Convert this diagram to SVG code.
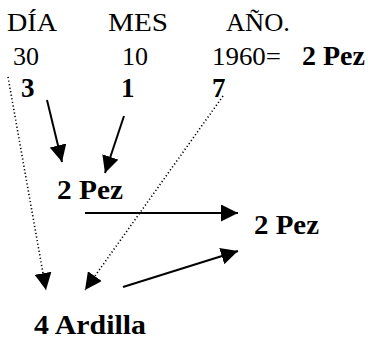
<svg xmlns="http://www.w3.org/2000/svg" width="368" height="339" viewBox="0 0 368 339">
<defs>
<style>
.s{stroke:#000;stroke-width:2;fill:none}
.d{stroke:#000;stroke-width:1.6;stroke-dasharray:1.2 2.4;fill:none}
</style>
<marker id="ah" viewBox="0 0 16 16" refX="16" refY="8" markerWidth="17" markerHeight="17" markerUnits="userSpaceOnUse" orient="auto">
<path d="M0,0 L16,8 L0,16 Z" fill="#000"/>
</marker>
</defs>
<rect width="368" height="339" fill="#fff"/>
<g font-family="Liberation Serif" font-size="26" fill="#000">
<g id="headers">
<text x="7" y="31" textLength="50" lengthAdjust="spacingAndGlyphs">DÍA</text>
<text x="108" y="31" textLength="60" lengthAdjust="spacingAndGlyphs">MES</text>
<text x="226" y="31" textLength="64" lengthAdjust="spacingAndGlyphs">AÑO.</text>
</g>
<g id="values">
<text x="13" y="65">30</text>
<text x="122" y="65">10</text>
<text x="212" y="65" textLength="69" lengthAdjust="spacingAndGlyphs">1960=</text>
<text x="302" y="65" font-weight="bold" font-size="27" textLength="63" lengthAdjust="spacingAndGlyphs">2 Pez</text>
</g>
<g id="digits" font-weight="bold" font-size="27">
<text x="21" y="97">3</text>
<text x="121" y="97">1</text>
<text x="212" y="97">7</text>
</g>
<g font-weight="bold" font-size="27">
<g id="pez1"><text x="57" y="199" textLength="66" lengthAdjust="spacingAndGlyphs">2 Pez</text></g>
<g id="pez2"><text x="254" y="234" textLength="65" lengthAdjust="spacingAndGlyphs">2 Pez</text></g>
<g id="ardilla"><text x="34" y="334" textLength="112" lengthAdjust="spacingAndGlyphs">4 Ardilla</text></g>
</g>
</g>
<g id="connectors">
<line class="s" x1="47" y1="100" x2="62" y2="162" marker-end="url(#ah)"/>
<line class="s" x1="124" y1="116" x2="105" y2="173" marker-end="url(#ah)"/>
<line class="s" x1="85" y1="213" x2="238" y2="213" marker-end="url(#ah)"/>
<line class="s" x1="123" y1="287" x2="238" y2="251" marker-end="url(#ah)"/>
<line class="d" x1="8" y1="77" x2="46" y2="290" marker-end="url(#ah)"/>
<line class="d" x1="223" y1="96" x2="85" y2="290" marker-end="url(#ah)"/>
</g>
</svg>
